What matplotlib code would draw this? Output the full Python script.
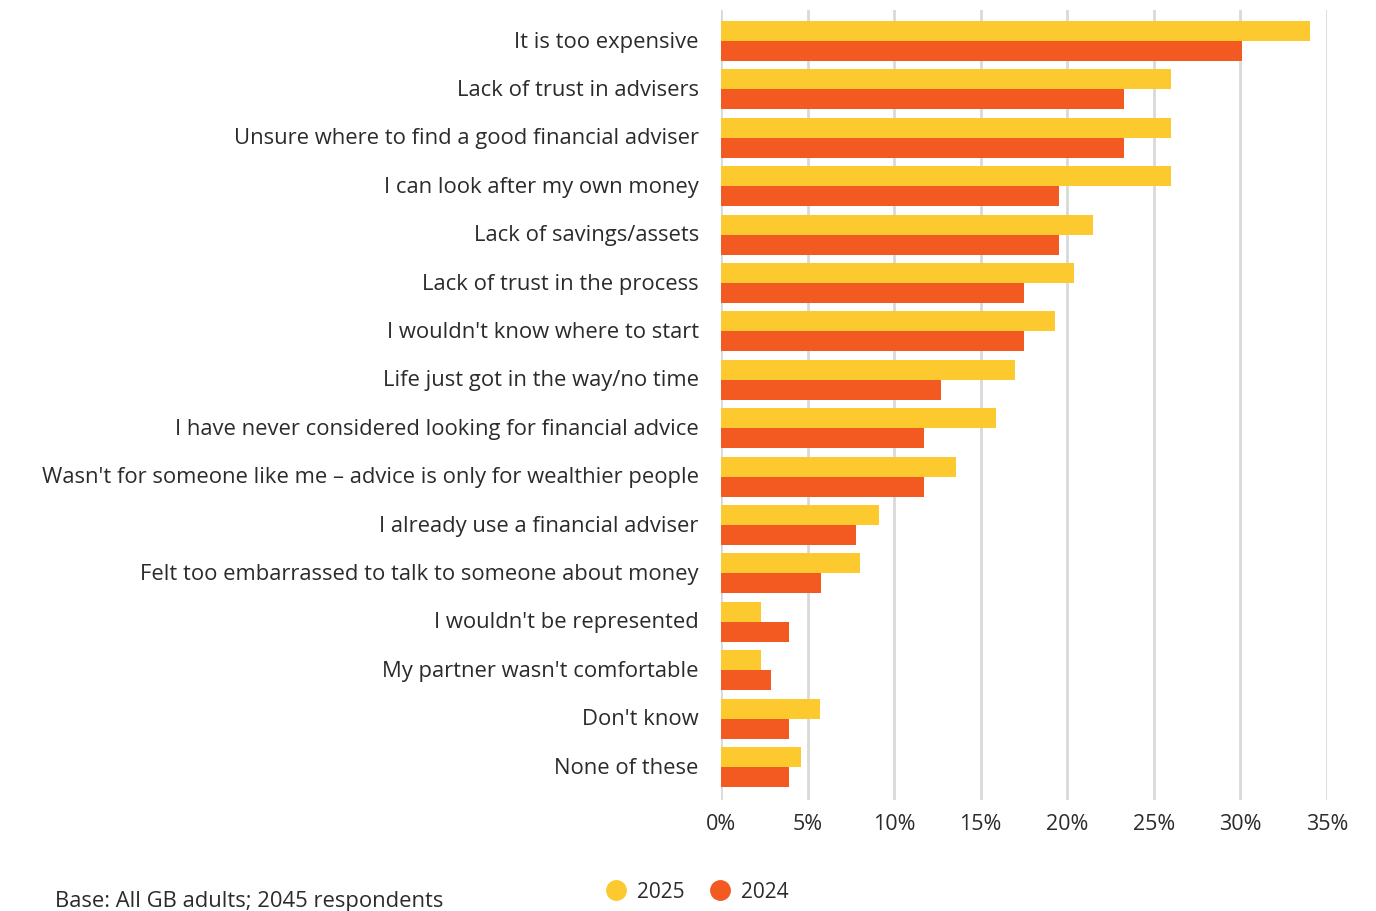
import numpy as np
import matplotlib.pyplot as plt
from matplotlib.lines import Line2D

plt.rcParams['font.family'] = ['Open Sans', 'DejaVu Sans']

# reasons for not seeking financial advice
reasons = [
    "It is too expensive",
    "Lack of trust in advisers",
    "Unsure where to find a good financial adviser",
    "I can look after my own money",
    "Lack of savings/assets",
    "Lack of trust in the process",
    "I wouldn't know where to start",
    "Life just got in the way/no time",
    "I have never considered looking for financial advice",
    "Wasn't for someone like me \u2013 advice is only for wealthier people",
    "I already use a financial adviser",
    "Felt too embarrassed to talk to someone about money",
    "I wouldn't be represented",
    "My partner wasn't comfortable",
    "Don't know",
    "None of these",
]
pct_2025 = [34.0, 26.0, 26.0, 26.0, 21.5, 20.4, 19.3, 17.0, 15.9, 13.6, 9.1, 8.0, 2.3, 2.3, 5.7, 4.6]
pct_2024 = [30.1, 23.3, 23.3, 19.5, 19.5, 17.5, 17.5, 12.7, 11.7, 11.7, 7.8, 5.8, 3.9, 2.9, 3.9, 3.9]
xticks = [0, 5, 10, 15, 20, 25, 30, 35]

c25 = '#FCCA2E'
c24 = '#F25A22'
txt = '#2b2b2b'

fig = plt.figure(figsize=(13.76, 9.11), dpi=100)
ax = fig.add_axes([721 / 1376, 111 / 911, 606 / 1376, 790 / 911])

y = np.arange(len(reasons))
h = 0.414
ax.barh(y - h / 2, pct_2025, height=h, color=c25, zorder=3)
ax.barh(y + h / 2, pct_2024, height=h, color=c24, zorder=3)

ax.set_xlim(0, 35)
ax.set_ylim(len(reasons) - 1 + 0.68, -0.64)
ax.set_xticks(xticks)
ax.set_xticklabels([f'{t}%' for t in xticks], fontsize=15.5, color=txt)
ax.set_yticks(y - 0.03)
ax.set_yticklabels(reasons, fontsize=15.8, color=txt)
ax.tick_params(axis='both', length=0)
ax.tick_params(axis='x', pad=10)
ax.tick_params(axis='y', pad=16)
ax.grid(axis='x', color='#d9d9d9', linewidth=2, zorder=0)
for s in ax.spines.values():
    s.set_visible(False)

handles = [
    Line2D([], [], marker='o', linestyle='', markersize=14, color=c25, label='2025'),
    Line2D([], [], marker='o', linestyle='', markersize=14, color=c24, label='2024'),
]
fig.legend(handles=handles, loc='center', bbox_to_anchor=(692 / 1376, 1 - 892 / 911),
           ncol=2, frameon=False, fontsize=15, handletextpad=0.0, columnspacing=0.7,
           labelcolor=txt)

fig.text(55 / 1376, 1 - 901 / 911, 'Base: All GB adults; 2045 respondents',
         fontsize=15.8, color=txt, va='center', ha='left')

fig.savefig('out.png', dpi=100)
